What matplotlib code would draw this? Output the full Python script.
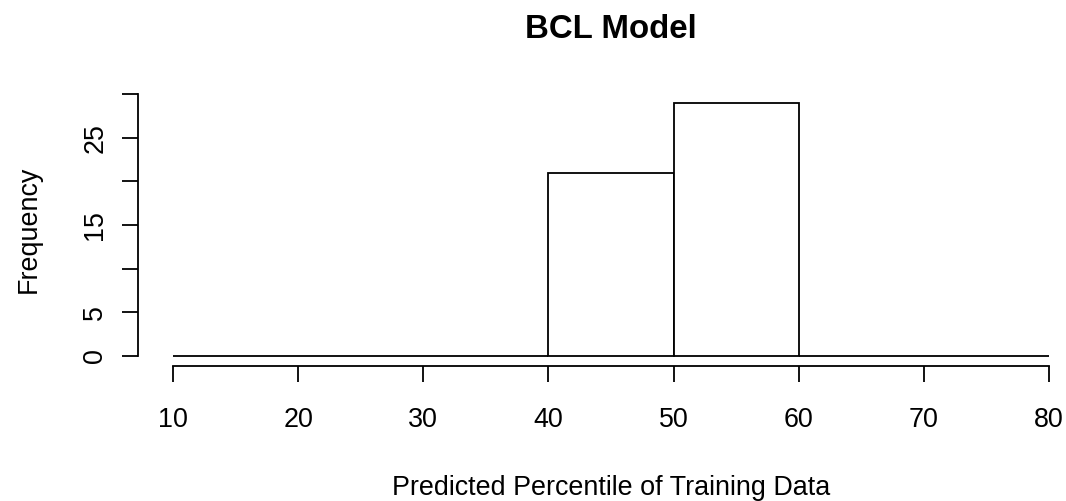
import numpy as np
import matplotlib.pyplot as plt

# histogram of predicted percentiles
bin_edges = [10, 20, 30, 40, 50, 60, 70, 80]
counts = [0, 0, 0, 21, 29, 0, 0]
x_ticks = [10, 20, 30, 40, 50, 60, 70, 80]
y_ticks = [0, 5, 10, 15, 20, 25, 30]
y_tick_labels = ['0', '5', '', '15', '', '25', '']

plt.rcParams['font.family'] = ['Liberation Sans', 'DejaVu Sans']

W, H = 1066, 501
fig = plt.figure(figsize=(W / 100, H / 100), dpi=100, facecolor='white')

# plot region in pixels (R style: runs a bit past the right edge)
left, right, top, bottom = 138, 1084, 92.7, 366
ax = fig.add_axes([left / W, (H - bottom) / H, (right - left) / W, (bottom - top) / H])

lw = 1.3
ax.bar(bin_edges[:-1], counts, width=np.diff(bin_edges), align='edge',
       facecolor='white', edgecolor='black', linewidth=lw, clip_on=False)

ax.set_xlim(7.2, 82.8)
ax.set_ylim(-1.16, 30.16)

for s in ['top', 'right']:
    ax.spines[s].set_visible(False)
ax.spines['left'].set_bounds(0, 30)
ax.spines['bottom'].set_bounds(10, 80)
for s in ['left', 'bottom']:
    ax.spines[s].set_linewidth(lw)

ax.set_xticks(x_ticks)
ax.set_xticklabels([str(t) for t in x_ticks])
ax.set_yticks(y_ticks)
ax.set_yticklabels(y_tick_labels, rotation=90, va='center')

ax.tick_params(axis='x', length=11.5, width=lw, pad=18, labelsize=19.4)
ax.tick_params(axis='y', length=11.5, width=lw, pad=10, labelsize=19.4)

fig.text(611 / W, (H - 38) / H, 'BCL Model', ha='center', va='baseline',
         fontsize=23.8, fontweight='bold')
fig.text(611 / W, (H - 495) / H, 'Predicted Percentile of Training Data',
         ha='center', va='baseline', fontsize=19.4)
fig.text(36 / W, (H - 229) / H, 'Frequency', ha='center', va='baseline',
         rotation=90, rotation_mode='anchor', fontsize=19.4)

fig.savefig('out.png', dpi=100, facecolor='white')
